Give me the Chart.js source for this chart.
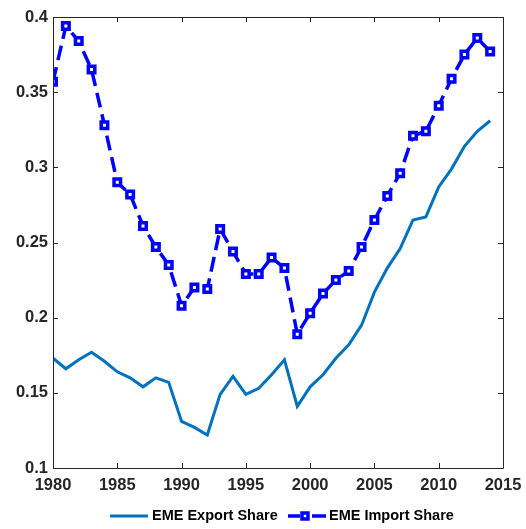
<!DOCTYPE html>
<html>
<head>
  <meta charset="UTF-8">
  <title>EME Export and Import Share</title>
  <script src="https://cdn.jsdelivr.net/npm/chart.js@4.4.1/dist/chart.umd.min.js"></script>
  <style>
    body { margin: 0; background: #fff; }
    #wrap { position: relative; width: 526px; height: 529px; }
  </style>
</head>
<body>
<div id="wrap"><canvas id="myChart"></canvas></div>
<script>
  // years on the x axis
  var years = [1980, 1981, 1982, 1983, 1984, 1985, 1986, 1987, 1988, 1989,
               1990, 1991, 1992, 1993, 1994, 1995, 1996, 1997, 1998, 1999,
               2000, 2001, 2002, 2003, 2004, 2005, 2006, 2007, 2008, 2009,
               2010, 2011, 2012, 2013, 2014];

  var exportShare = [0.173, 0.166, 0.172, 0.177, 0.171, 0.164, 0.160, 0.154, 0.160, 0.157,
                     0.131, 0.127, 0.122, 0.149, 0.161, 0.149, 0.153, 0.162, 0.172, 0.141,
                     0.154, 0.162, 0.173, 0.182, 0.195, 0.217, 0.233, 0.246, 0.265, 0.267,
                     0.287, 0.299, 0.314, 0.324, 0.331];

  var importShare = [0.357, 0.394, 0.384, 0.365, 0.328, 0.290, 0.282, 0.261, 0.247, 0.235,
                     0.208, 0.220, 0.219, 0.259, 0.244, 0.229, 0.229, 0.240, 0.233, 0.189,
                     0.203, 0.216, 0.225, 0.231, 0.247, 0.265, 0.281, 0.296, 0.321, 0.324,
                     0.341, 0.359, 0.375, 0.386, 0.377];

  var xTicks = [1980, 1985, 1990, 1995, 2000, 2005, 2010, 2015];
  var yTicks = [0.1, 0.15, 0.2, 0.25, 0.3, 0.35, 0.4];

  var labelNames = ["EME Export Share", "EME Import Share"];

  var axisColor = "#262626";
  var exportColor = "#0072BD";
  var importColor = "#0000FF";

  function pts(vals) {
    return years.map(function(y, i) { return { x: y, y: vals[i] }; });
  }

  // box round the plot with inward ticks, like the matlab axes
  var boxPlugin = {
    id: "box",
    afterDraw: function(chart) {
      var ctx = chart.ctx, a = chart.chartArea;
      var xs = chart.scales.x, ys = chart.scales.y;
      var len = 5;
      ctx.save();
      ctx.strokeStyle = axisColor;
      ctx.lineWidth = 1;
      ctx.beginPath();
      ctx.rect(Math.round(a.left) + 0.5, Math.round(a.top) + 0.5,
               Math.round(a.right - a.left), Math.round(a.bottom - a.top));
      xTicks.forEach(function(t) {
        var px = Math.round(xs.getPixelForValue(t)) + 0.5;
        ctx.moveTo(px, a.bottom); ctx.lineTo(px, a.bottom - len);
        ctx.moveTo(px, a.top); ctx.lineTo(px, a.top + len);
      });
      yTicks.forEach(function(t) {
        var py = Math.round(ys.getPixelForValue(t)) + 0.5;
        ctx.moveTo(a.left, py); ctx.lineTo(a.left + len, py);
        ctx.moveTo(a.right, py); ctx.lineTo(a.right - len, py);
      });
      ctx.stroke();

      // legend at the bottom
      var ly = 516;
      ctx.font = "bold 14.5px 'Liberation Sans', Arial, sans-serif";
      ctx.textBaseline = "middle";
      ctx.fillStyle = "#000";

      ctx.strokeStyle = exportColor;
      ctx.lineWidth = 3;
      ctx.beginPath(); ctx.moveTo(110, ly); ctx.lineTo(148, ly); ctx.stroke();
      ctx.fillText(labelNames[0], 152, ly);

      ctx.strokeStyle = importColor;
      ctx.lineWidth = 3.5;
      ctx.beginPath(); ctx.moveTo(288, ly); ctx.lineTo(300, ly);
      ctx.moveTo(312, ly); ctx.lineTo(326, ly); ctx.stroke();
      ctx.lineWidth = 3.5;
      ctx.fillStyle = "#fff";
      ctx.fillRect(302, ly - 3, 6, 6);
      ctx.strokeRect(302, ly - 3, 6, 6);
      ctx.fillStyle = "#000";
      ctx.fillText(labelNames[1], 329, ly);
      ctx.restore();
    }
  };

  var tickFont = { family: "'Liberation Sans', Arial, sans-serif", size: 16.5, weight: "bold" };

  new Chart(document.getElementById("myChart"), {
    type: "line",
    data: {
      datasets: [{
        label: labelNames[0],
        data: pts(exportShare),
        borderColor: exportColor,
        borderWidth: 3,
        pointRadius: 0,
        fill: false,
        tension: 0
      }, {
        label: labelNames[1],
        data: pts(importShare),
        borderColor: importColor,
        borderWidth: 3.5,
        borderDash: [15, 7],
        pointStyle: "rect",
        pointRadius: 4.6,
        pointBorderWidth: 3.5,
        pointBackgroundColor: "#fff",
        pointBorderColor: importColor,
        fill: false,
        tension: 0
      }]
    },
    options: {
      responsive: true,
      maintainAspectRatio: false,
      animation: false,
      layout: { padding: { top: 17, right: 0, left: 0, bottom: 0 } },
      plugins: { legend: { display: false }, tooltip: { enabled: false } },
      scales: {
        x: {
          type: "linear",
          min: 1980, max: 2015,
          afterBuildTicks: function(s) { s.ticks = xTicks.map(function(v) { return { value: v }; }); },
          afterFit: function(s) { s.height = 61; s.paddingRight = 23; s.paddingLeft = 0; },
          grid: { display: false, drawTicks: false },
          border: { display: false },
          ticks: { color: axisColor, font: tickFont, padding: 8, maxRotation: 0,
                   callback: function(v) { return String(v); } }
        },
        y: {
          min: 0.1, max: 0.4,
          afterBuildTicks: function(s) { s.ticks = yTicks.map(function(v) { return { value: v }; }); },
          afterFit: function(s) { s.width = 53; s.paddingTop = 0; s.paddingBottom = 0; },
          grid: { display: false, drawTicks: false },
          border: { display: false },
          ticks: { color: axisColor, font: tickFont, padding: 5,
                   callback: function(v) { return String(Math.round(v * 100) / 100); } }
        }
      }
    },
    plugins: [boxPlugin]
  });
</script>
</body>
</html>
